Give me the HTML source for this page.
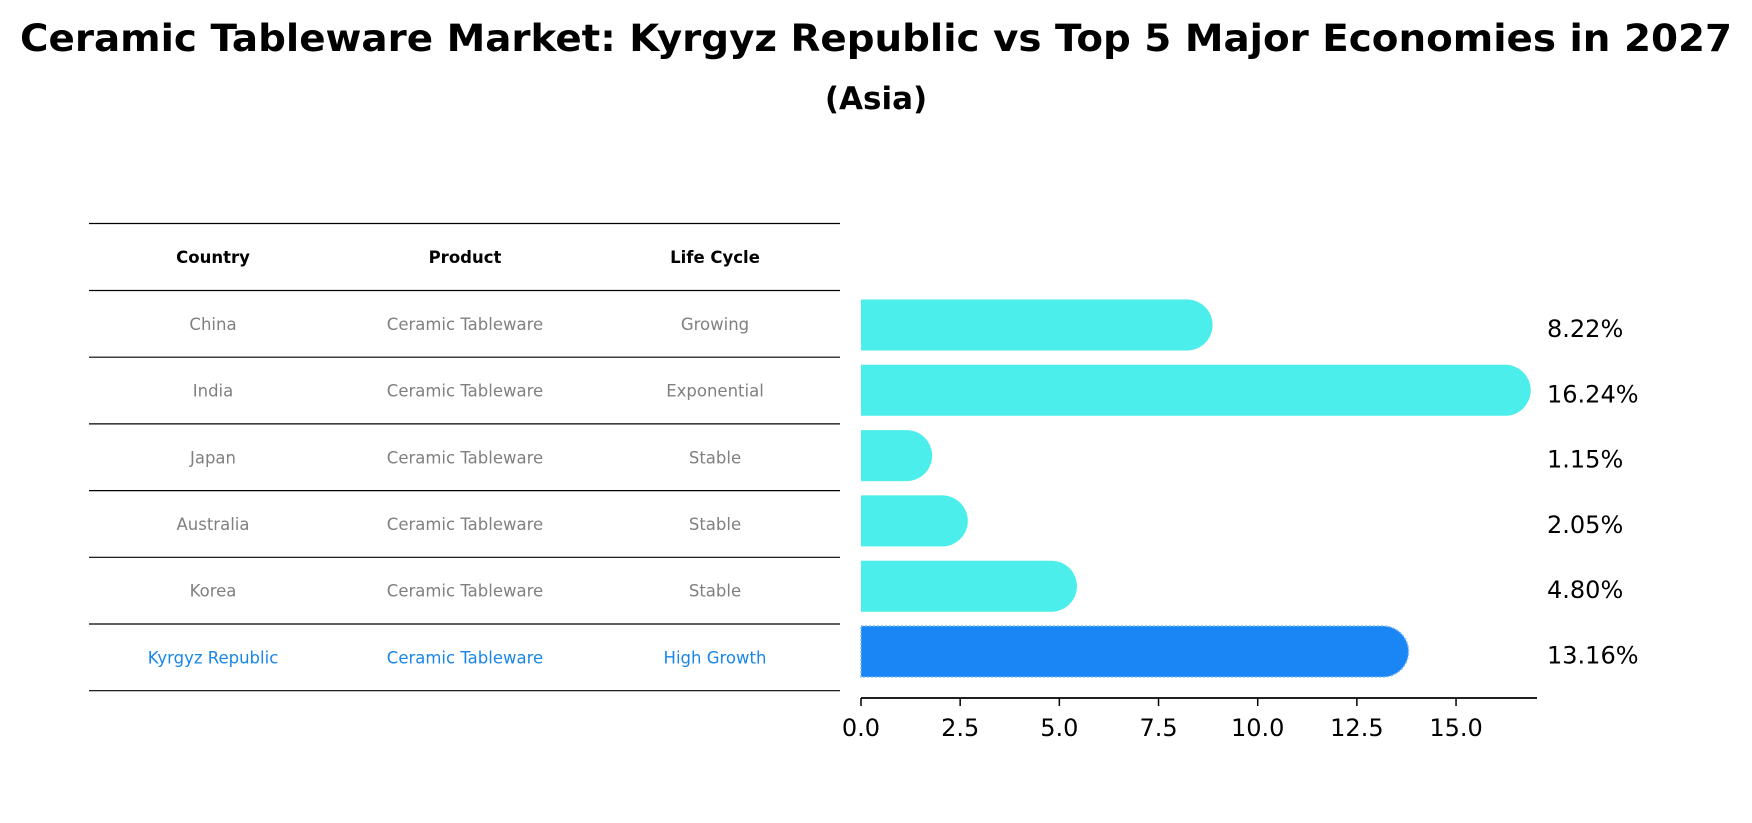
<!DOCTYPE html>
<html><head><meta charset="utf-8"><style>
html,body{margin:0;padding:0;background:#fff;}
svg{display:block;font-family:"DejaVu Sans","Liberation Sans",sans-serif;}
</style></head><body>
<svg id="chart" width="1752" height="823" viewBox="0 0 1752 823">
<text x="876" y="51" text-anchor="middle" font-weight="bold" font-size="37" textLength="1712" lengthAdjust="spacingAndGlyphs">Ceramic Tableware Market: Kyrgyz Republic vs Top 5 Major Economies in 2027</text>
<text x="876" y="109" text-anchor="middle" font-weight="bold" font-size="31">(Asia)</text>
<g id="table"></g>
<g id="bars"></g>
<g id="axis"></g>
</svg>
<script>
const countries = ["China","India","Japan","Australia","Korea","Kyrgyz Republic"];
const products = ["Ceramic Tableware","Ceramic Tableware","Ceramic Tableware","Ceramic Tableware","Ceramic Tableware","Ceramic Tableware"];
const lifeCycles = ["Growing","Exponential","Stable","Stable","Stable","High Growth"];
const growthValues = [8.22,16.24,1.15,2.05,4.80,13.16];
const tickValues = [0,2.5,5,7.5,10,12.5,15];
const tickLabels = ["0.0","2.5","5.0","7.5","10.0","12.5","15.0"];

const NS="http://www.w3.org/2000/svg";
function mk(tag,attrs,parent){const e=document.createElementNS(NS,tag);for(const k in attrs)e.setAttribute(k,attrs[k]);parent.appendChild(e);return e;}
const x0=861, pxPerUnit=39.67;
function xScale(v){return x0+v*pxPerUnit;}
const rowTop=325, rowStep=65.3, barH=51;
function yScale(i){return rowTop+i*rowStep;}

// table
const tbl=document.getElementById('table');
const lineYs=[223.5,290.5];
const tRowH=66.7;
const colX=[213,465,715];
const headers=["Country","Product","Life Cycle"];
function hline(y){const l=mk('line',{x1:89,x2:840,y1:y,y2:y,stroke:'#000','stroke-width':1.2},tbl);

}
hline(223.5);
headers.forEach((h,j)=>{const t=mk('text',{x:colX[j],y:263,'text-anchor':'middle','font-size':16.5,'font-weight':'bold'},tbl);t.textContent=h;

});
hline(290.5);
countries.forEach((c,i)=>{
  const cy=290.5+tRowH*i+tRowH/2;
  const col = i===countries.length-1 ? '#1a86e8' : '#808080';
  [c,products[i],lifeCycles[i]].forEach((v,j)=>{
    const t=mk('text',{x:colX[j],y:cy+6,'text-anchor':'middle','font-size':16.5,fill:col},tbl);t.textContent=v;
    
    
  });
  hline(290.5+tRowH*(i+1));
});

// bars
const bars=document.getElementById('bars');
growthValues.forEach((v,i)=>{
  const cy=yScale(i), r=barH/2;
  const xe=xScale(v);
  const last=i===growthValues.length-1;
  const fill= last ? '#1a85f5' : '#4beeea';
  const d=`M${x0},${cy-r} L${xe},${cy-r} A${r},${r} 0 0 1 ${xe},${cy+r} L${x0},${cy+r} Z`;
  const p=mk('path',{d:d,fill:fill},bars);
  if(last){p.setAttribute('stroke','#7fb8f5');p.setAttribute('stroke-dasharray','2,2');p.setAttribute('stroke-width','1.5');}
  
  
  const t=mk('text',{x:1547,y:cy+12,'font-size':24},bars);
  t.textContent=v.toFixed(2)+'%';
  
  
});

// axis
const ax=document.getElementById('axis');
const axY=698;
const al=mk('line',{x1:x0,x2:1537,y1:axY,y2:axY,stroke:'#000','stroke-width':1.8},ax);


tickValues.forEach((v,i)=>{
  const x=xScale(v);
  const tk=mk('line',{x1:x,x2:x,y1:axY,y2:axY+8,stroke:'#000','stroke-width':1.5},ax);
  
  
  const t=mk('text',{x:x,y:736,'text-anchor':'middle','font-size':24},ax);
  t.textContent=tickLabels[i];
  
  
});
</script>
</body></html>
